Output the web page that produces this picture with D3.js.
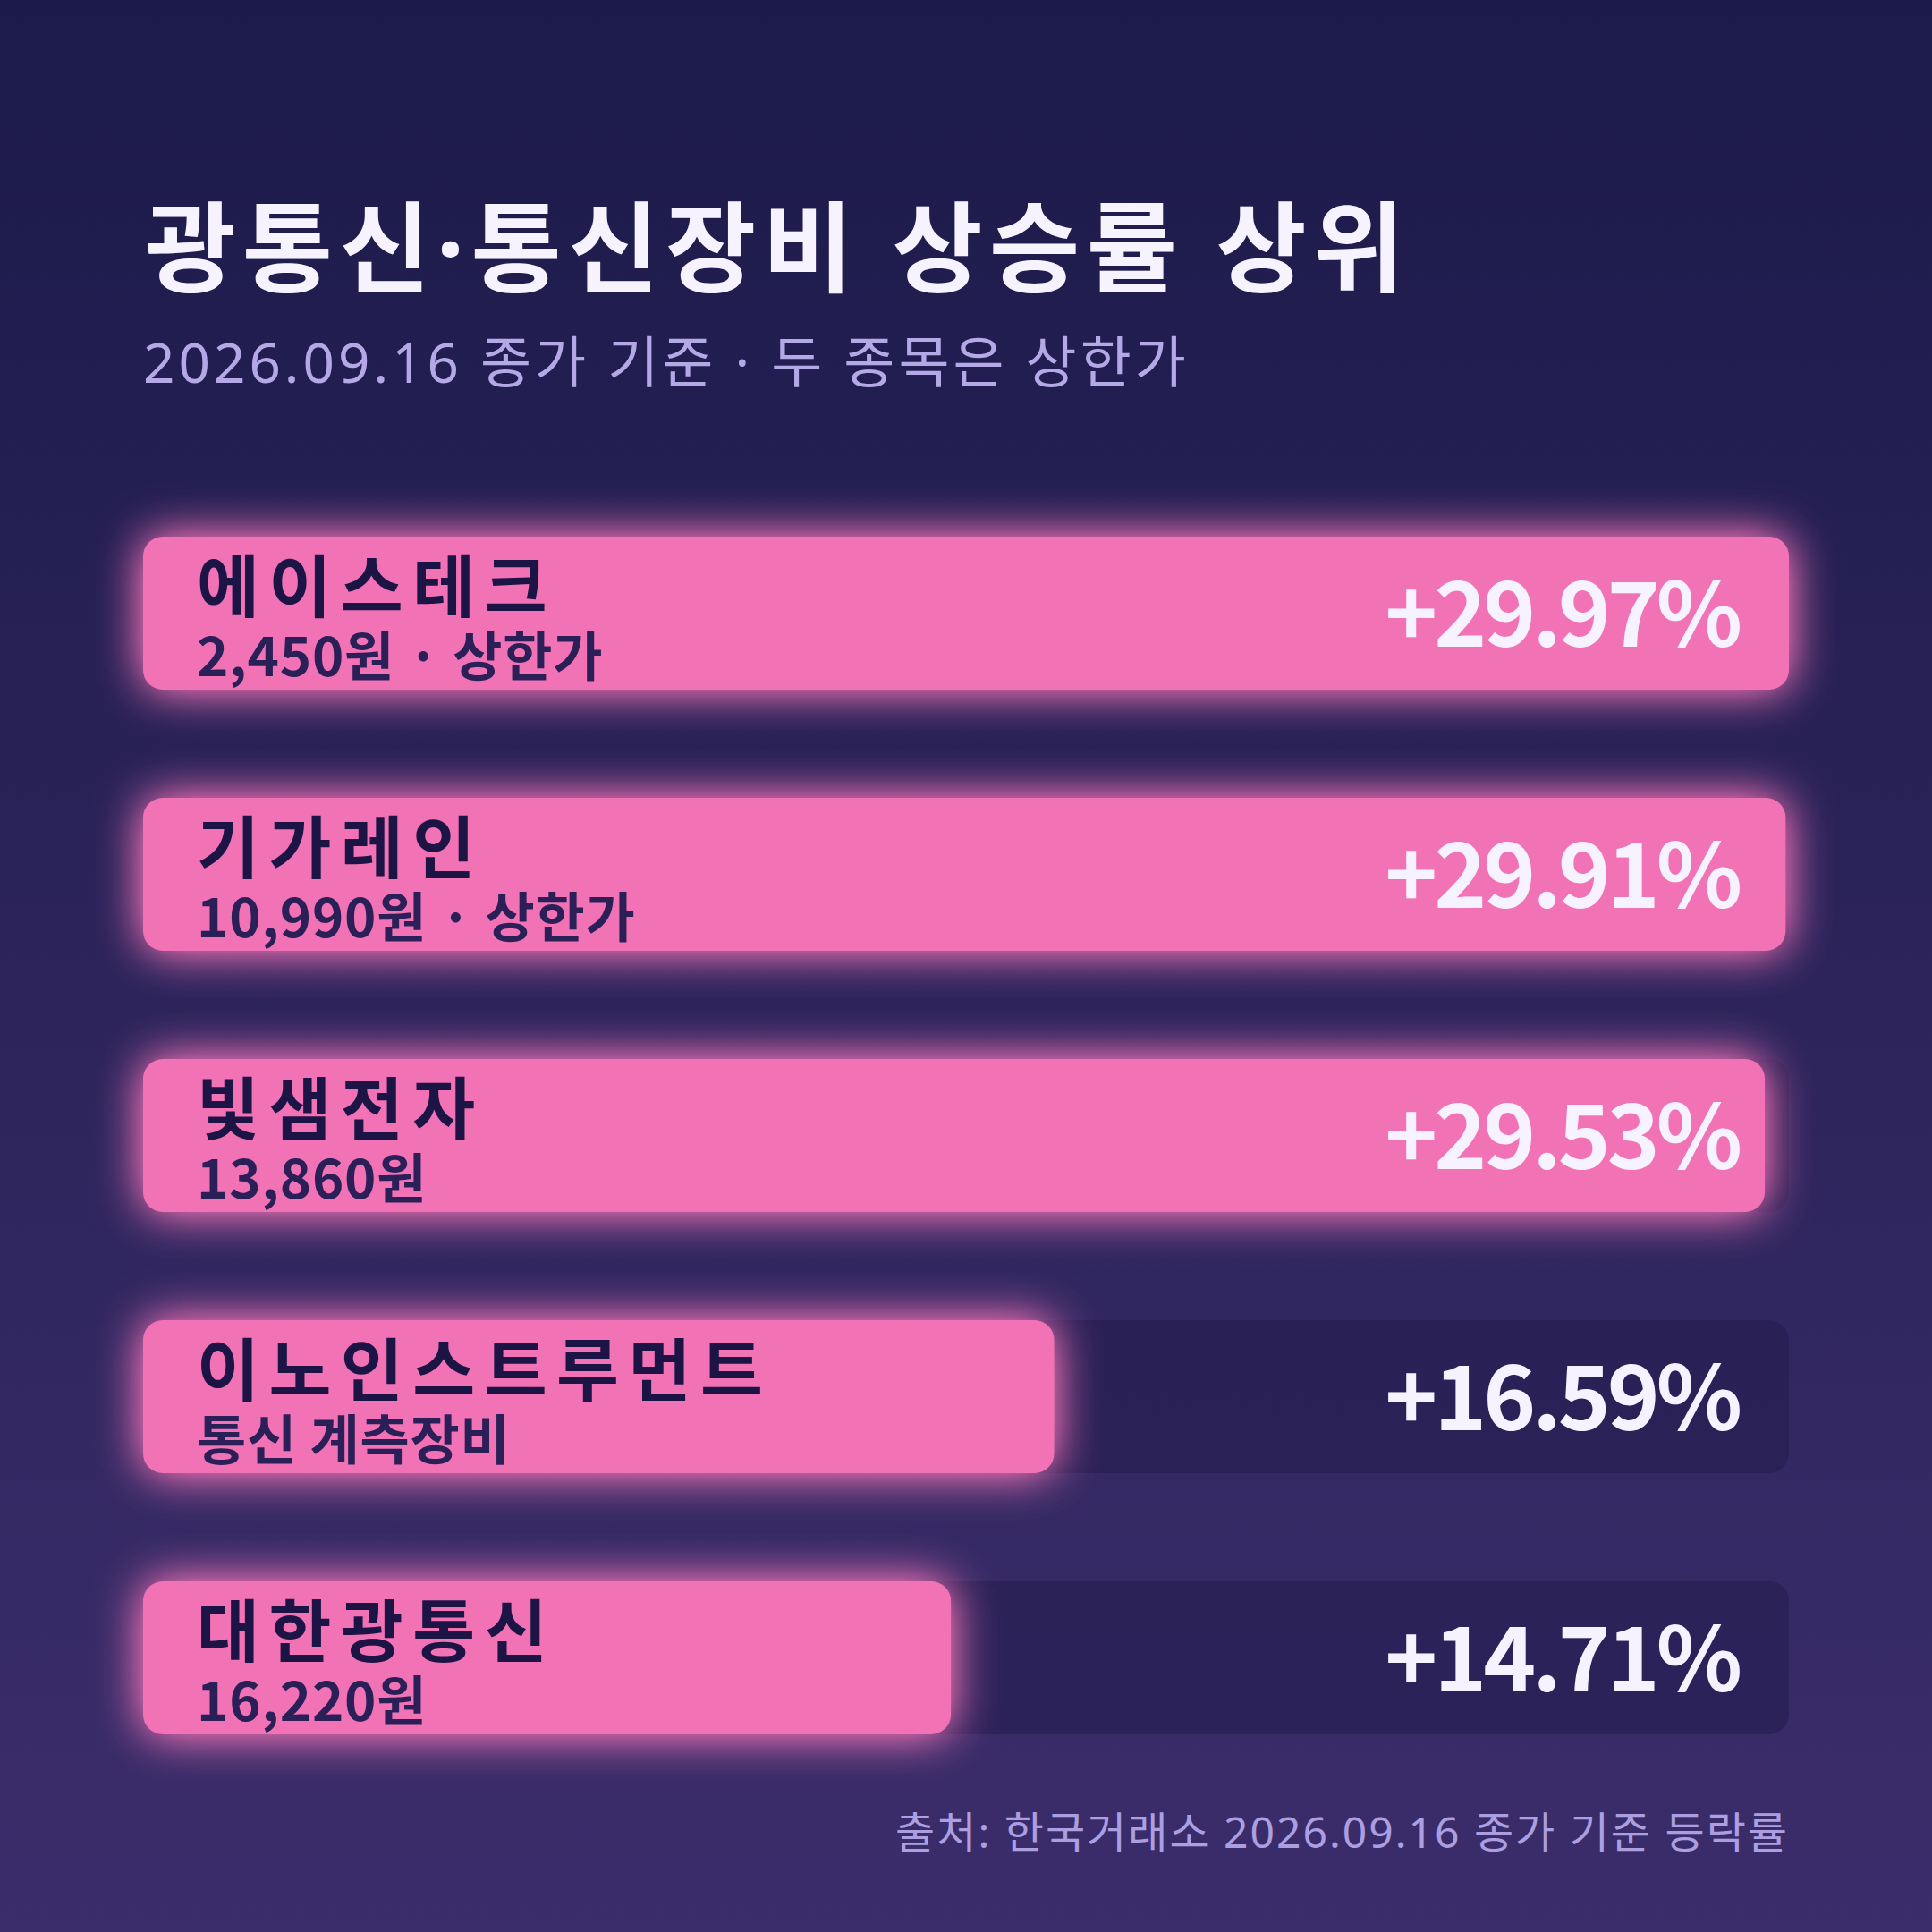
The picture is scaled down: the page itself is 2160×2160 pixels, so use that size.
<!DOCTYPE html>
<html><head><meta charset="utf-8">
<script src="https://cdn.jsdelivr.net/npm/d3@7"></script>
<style>
html,body{margin:0;padding:0;background:#1d1a4a;}
svg{display:block;}
</style></head>
<body>
<script>
const names = ["에이스테크", "기가레인", "빛샘전자", "이노인스트루먼트", "대한광통신"];
const subLabels = ["2,450원 · 상한가", "10,990원 · 상한가", "13,860원", "통신 계측장비", "16,220원"];
const changes = [29.97, 29.91, 29.53, 16.59, 14.71];
const titleText = "광통신·통신장비 상승률 상위";
const subtitleText = "2026.09.16 종가 기준 · 두 종목은 상한가";
const sourceText = "출처: 한국거래소 2026.09.16 종가 기준 등락률";

const W = 2160, H = 2160;
const CJK = "'Noto Sans CJK KR','Noto Sans',sans-serif";
const LAT = "'Noto Sans','Noto Sans CJK KR',sans-serif";
const svg = d3.select("body").append("svg").attr("width", W).attr("height", H);
const defs = svg.append("defs");
const bg = defs.append("linearGradient").attr("id","bg").attr("x1",0).attr("y1",0).attr("x2",0).attr("y2",1);
bg.append("stop").attr("offset","0%").attr("stop-color","#1c1a4a");
bg.append("stop").attr("offset","100%").attr("stop-color","#3b2d6b");
const glow = defs.append("filter").attr("id","glow").attr("x","-20%").attr("y","-90%").attr("width","140%").attr("height","280%");
glow.append("feGaussianBlur").attr("in","SourceGraphic").attr("stdDeviation",26).attr("result","b");
glow.append("feComponentTransfer").attr("in","b").attr("result","b2")
  .append("feFuncA").attr("type","linear").attr("slope",1.35);
const m = glow.append("feMerge");
m.append("feMergeNode").attr("in","b2");
m.append("feMergeNode").attr("in","SourceGraphic");

svg.append("rect").attr("width",W).attr("height",H).attr("fill","url(#bg)");

const left = 160, right = 2000, top0 = 600, step = 292, bh = 171;
const x = d3.scaleLinear().domain([0, d3.max(changes)]).range([0, right-left]);
const y = d3.scaleLinear().domain([0, 1]).range([top0, top0 + step]);

svg.append("text").attr("x",162).attr("y",318).attr("font-family",LAT).attr("font-weight",700)
  .attr("font-size",110).attr("letter-spacing",7.5).attr("fill","#f6f3ff").text(titleText);
svg.append("text").attr("x",160).attr("y",428).attr("font-family",LAT).attr("font-weight",400)
  .attr("font-size",62).attr("letter-spacing",4).attr("fill","#b5a8e6").text(subtitleText);

const g = svg.append("g").selectAll("g").data(changes).join("g")
  .attr("transform",(d,i)=>`translate(0,${y(i)})`);
g.append("rect").attr("x",left).attr("y",0).attr("width",right-left).attr("height",bh)
  .attr("rx",22).attr("fill","#221c4e").attr("fill-opacity",0.55);
g.append("rect").attr("x",left).attr("y",0).attr("width",d=>x(d)).attr("height",bh)
  .attr("rx",22).attr("fill","#f272b6").attr("filter","url(#glow)");
g.append("text").attr("x",220).attr("y",84).attr("font-family",CJK).attr("font-weight",700)
  .attr("font-size",76).attr("letter-spacing",10.5).attr("fill","#1c1444").text((d,i)=>names[i]);
g.append("text").attr("x",220).attr("y",156).attr("font-family",CJK).attr("font-weight",700)
  .attr("font-size",60).attr("letter-spacing",0.8).attr("fill","#2a1f57").text((d,i)=>subLabels[i]);
g.append("text").attr("x",1944).attr("y",123).attr("text-anchor","end").attr("font-family",CJK).attr("font-weight",700)
  .attr("font-size",100).attr("letter-spacing",-4).attr("fill","#f6f2ff").text(d=>"+"+d.toFixed(2)+"%");

svg.append("text").attr("x",2000).attr("y",2066).attr("text-anchor","end").attr("font-family",LAT).attr("font-weight",400)
  .attr("font-size",48).attr("letter-spacing",2).attr("fill","#ab9fe2").text(sourceText);
</script>
</body></html>
